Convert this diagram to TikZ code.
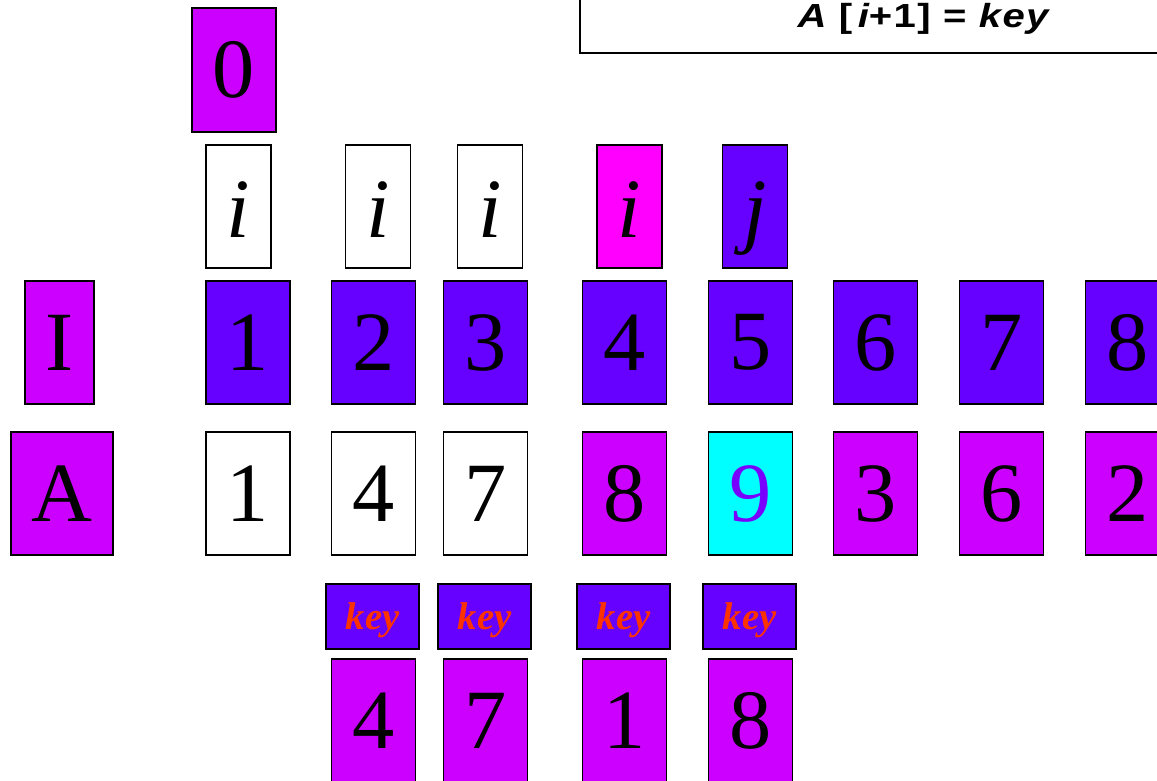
\documentclass[tikz,border=0pt]{standalone}
\usepackage{fontspec}
\setmainfont{Liberation Serif}
\newfontfamily\formulafont[FakeStretch=1.2,LetterSpace=4]{Liberation Sans}
\usepackage{tikz}
\usetikzlibrary{positioning}
\definecolor{IdxC}{RGB}{102,0,255}
\definecolor{ValC}{RGB}{204,0,255}
\definecolor{PtrC}{RGB}{255,0,255}
\definecolor{CurC}{RGB}{0,255,255}
\definecolor{NineC}{RGB}{120,0,255}
\definecolor{KeyC}{RGB}{255,51,0}
\newcommand{\cellfont}{\fontsize{48}{50}\selectfont}
\tikzset{
  cell/.style={draw=black,line width=0.9pt,inner sep=0pt,
               minimum width=16.8mm,minimum height=24.6mm,font=\cellfont},
  idxcell/.style={cell,fill=IdxC},
  valcell/.style={cell,fill=ValC},
  ptrcell/.style={cell,minimum width=13mm,text height=35.5pt,text depth=0pt},
  keycell/.style={draw=black,line width=0.9pt,inner sep=0pt,fill=IdxC,
                  minimum width=18.6mm,minimum height=13mm,text=KeyC,text depth=0pt,
                  font=\fontsize{22}{24}\selectfont\bfseries\itshape},
  rulebox/.style={draw=black,line width=0.9pt,inner sep=0pt,fill=white,
                  minimum width=137.2mm,minimum height=18.6mm,
                  text height=8.2mm,text depth=0pt,
                  font=\fontsize{19}{21}\formulafont\bfseries},
}

\begin{document}
\begin{tikzpicture}[x=0.2mm,y=-0.2mm]
  \useasboundingbox (0,0) rectangle (1157,780);
  \clip (0,0) rectangle (1157,780);
  % statement
  \node[rulebox] (rule) at (923,6.5) {\itshape A \upshape[\,\itshape i\upshape+1] = \itshape key};
  % hold cell
  \node[valcell,minimum height=24.8mm] (zero) at (234,70) {0};
  % pointers
  \node[ptrcell,fill=white] (i1) at (238.5,206.5) {\itshape i};
  \node[ptrcell,fill=white] (i2) at (378,206.5) {\itshape i};
  \node[ptrcell,fill=white] (i3) at (490,206.5) {\itshape i};
  \node[ptrcell,fill=PtrC] (i4) at (629.5,206.5) {\itshape i};
  \node[ptrcell,fill=IdxC] (j) at (755,206.5) {\itshape j};
  % row labels
  \node[valcell,minimum width=13.8mm] (I) at (59.5,342.5) {I};
  \node[valcell,minimum width=20.4mm] (A) at (62,493.5) {A};
  % index row
  \foreach \x [count=\k] in {248,373.5,485.5,624.5,750.5,875.5,1001.5,1127.5}
    \node[idxcell] (idx\k) at (\x,342.5) {\k};
  % array row
  \foreach \x/\v/\c/\t [count=\k] in {248/1/white/black,373.5/4/white/black,
      485.5/7/white/black,624.5/8/ValC/black,750.5/9/CurC/NineC,
      875.5/3/ValC/black,1001.5/6/ValC/black,1127.5/2/ValC/black}
    \node[cell,fill=\c,text=\t] (a\k) at (\x,493.5) {\v};
  % key cells
  \foreach \x [count=\k] in {372.5,484.5,623.5,749.5}
    \node[keycell] (key\k) at (\x,616.5) {key};
  \foreach \x/\v [count=\k] in {373.5/4,485.5/7,624.5/1,750.5/8}
    \node[valcell] (held\k) at (\x,720.5) {\v};
\end{tikzpicture}
\end{document}
